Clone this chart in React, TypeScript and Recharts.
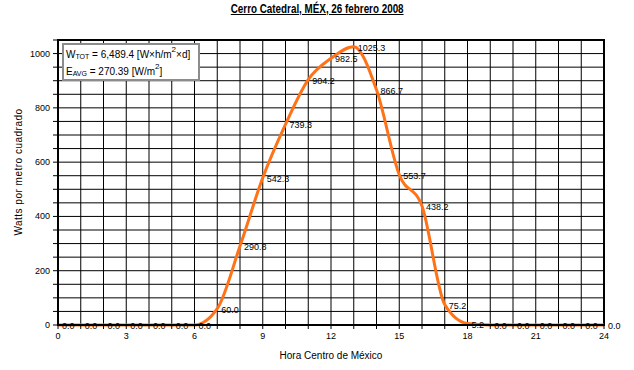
import { LineChart, Line, XAxis, YAxis, CartesianGrid, LabelList, ReferenceArea } from "recharts";

// Hora (0-24) y radiación medida
const horas = [0, 1, 2, 3, 4, 5, 6, 7, 8, 9, 10, 11, 12, 13, 14, 15, 16, 17, 18, 19, 20, 21, 22, 23, 24];
const watts = [
  0, 0, 0, 0, 0, 0, 0, 60.0, 290.8, 542.3, 739.3, 904.2, 982.5, 1025.3, 866.7, 553.7, 438.2, 75.2, 5.2, 0, 0, 0, 0, 0, 0,
];

const xTicks = horas;
const yTicks = [0, 50, 100, 150, 200, 250, 300, 350, 400, 450, 500, 550, 600, 650, 700, 750, 800, 850, 900, 950, 1000, 1050];

const titulo = "Cerro Catedral, MÉX, 26 febrero 2008";
const tituloX = "Hora Centro de México";
const tituloY = "Watts por metro cuadrado";

const chartData = horas.map((h, i) => ({ hora: h, w: watts[i] }));

const FONT = "'Liberation Sans', Arial, sans-serif";

const YTick = (props: any) => {
  const { x, y, payload } = props;
  if (payload.value % 200 !== 0) return null;
  return (
    <text x={x} y={y} textAnchor="end" dominantBaseline="central" fontSize={9} fontFamily={FONT} fill="#000">
      {payload.value}
    </text>
  );
};

const XTick = (props: any) => {
  const { x, y, payload } = props;
  if (payload.value % 3 !== 0) return null;
  return (
    <text x={x} y={y + 8} textAnchor="middle" fontSize={9} fontFamily={FONT} fill="#000">
      {payload.value}
    </text>
  );
};

const DataLabel = (props: any) => {
  const { x, y, value } = props;
  return (
    <text x={x + 4} y={y + 1} dominantBaseline="central" fontSize={9} fontFamily={FONT} fill="#000">
      {Number(value).toFixed(1)}
    </text>
  );
};

const subStyle = { fontSize: 7, verticalAlign: "-1px", lineHeight: 0 } as const;
const supStyle = { fontSize: 8, verticalAlign: "6px", lineHeight: 0 } as const;

export default function App() {
  return (
    <div style={{ position: "absolute", left: 0, top: 0, width: 634, height: 370, background: "#fff", fontFamily: FONT }}>
      <div
        style={{
          position: "absolute",
          top: 2,
          left: 0,
          width: 634,
          textAlign: "center",
          fontWeight: "bold",
          fontSize: 12,
          textDecoration: "underline",
          transform: "scaleX(0.82)",
          transformOrigin: "318px 0",
        }}
      >
        {titulo}
      </div>
      <LineChart width={634} height={370} data={chartData} margin={{ top: 40, right: 30, bottom: 15, left: 13 }}>
        <CartesianGrid stroke="#000" strokeWidth={1} />
        <XAxis
          dataKey="hora"
          type="number"
          domain={[0, 24]}
          ticks={xTicks}
          tick={<XTick />}
          tickSize={4}
          tickLine={{ stroke: "#000" }}
          axisLine={{ stroke: "#000", strokeWidth: 2 }}
          height={30}
          interval={0}
        />
        <YAxis
          type="number"
          domain={[0, 1050]}
          ticks={yTicks}
          tick={<YTick />}
          tickSize={5}
          tickMargin={3}
          tickLine={{ stroke: "#000" }}
          axisLine={{ stroke: "#000", strokeWidth: 2 }}
          width={45}
          interval={0}
        />
        <ReferenceArea x1={0} x2={24} y1={0} y2={1050} fill="none" stroke="#000" strokeWidth={2} ifOverflow="visible" />
        <Line
          type="monotone"
          dataKey="w"
          stroke="#FF7217"
          strokeWidth={3}
          dot={false}
          isAnimationActive={false}
        >
          <LabelList dataKey="w" content={<DataLabel />} />
        </Line>
      </LineChart>
      <div
        style={{
          position: "absolute",
          left: 62,
          top: 43,
          width: 132,
          height: 34,
          border: "2px solid #8c8c8c",
          background: "#fff",
          fontSize: 10,
          lineHeight: "17px",
          paddingLeft: 2,
          overflow: "hidden",
        }}
      >
        <div style={{ height: 17, marginTop: 1 }}>
          W<sub style={subStyle}>TOT</sub> = 6,489.4 [W×h/m<sup style={supStyle}>2</sup>×d]
        </div>
        <div style={{ height: 17 }}>
          E<sub style={subStyle}>AVG</sub> = 270.39 [W/m<sup style={supStyle}>2</sup>]
        </div>
      </div>
      <div style={{ position: "absolute", left: 0, top: 350, width: 662, textAlign: "center", fontSize: 10 }}>{tituloX}</div>
      <div
        style={{
          position: "absolute",
          left: 18,
          top: 172,
          transform: "translate(-50%, -50%) rotate(-90deg)",
          whiteSpace: "nowrap",
          fontSize: 10,
          letterSpacing: 0.5,
        }}
      >
        {tituloY}
      </div>
    </div>
  );
}
